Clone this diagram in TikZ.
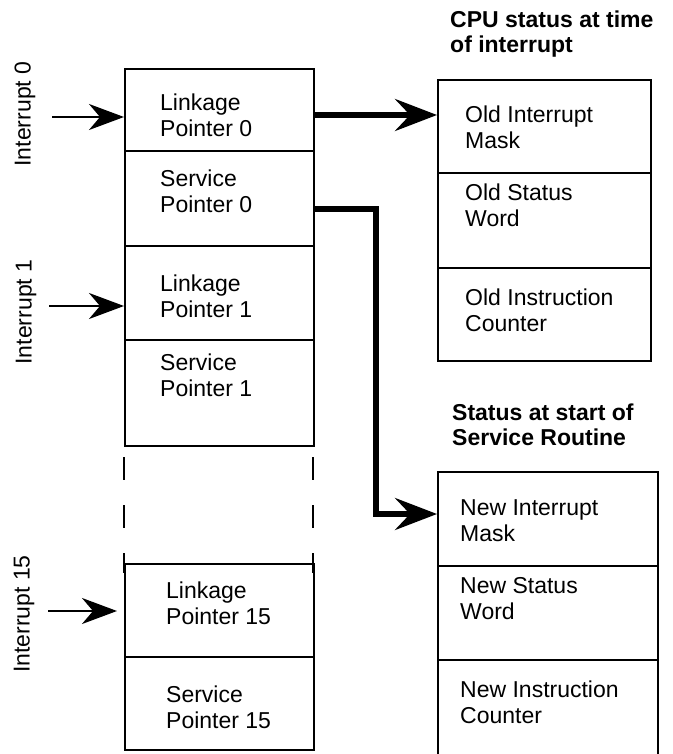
\documentclass[tikz,border=0pt]{standalone}
\usepackage{fontspec}
\setmainfont{Liberation Sans}
\usetikzlibrary{arrows.meta}
\tikzset{
  cell/.style={draw, line width=2pt, minimum width=#1, inner sep=0pt, anchor=north west},
  txt/.style={inner sep=0pt, anchor=west, align=left, font=\fontsize{23pt}{26pt}\selectfont},
  title/.style={inner sep=0pt, anchor=west, align=left, font=\fontsize{23pt}{25pt}\selectfont\bfseries},
  intlabel/.style={inner sep=0pt, rotate=90, font=\fontsize{23pt}{26pt}\selectfont},
  thinarrow/.style={line width=2.3pt, -{Stealth[length=35pt,width=26pt,inset=11pt]}},
  thickarrow/.style={line width=5.5pt, line join=miter, -{Stealth[length=42pt,width=32pt,inset=15pt]}},
  gapdash/.style={line width=2pt, dash pattern=on 23pt off 25pt}
}
\begin{document}
\begin{tikzpicture}[x=1pt,y=-1pt]
\useasboundingbox (0,0) rectangle (672,754);
\begin{scope}
\clip (0,0) rectangle (672,754);
% left column cells
\node[cell=189pt, minimum height=82pt] (lp0) at (124,68) {};
\node[cell=189pt, minimum height=95pt] (sp0) at (124,150) {};
\node[cell=189pt, minimum height=94pt] (lp1) at (124,245) {};
\node[cell=189pt, minimum height=106pt] (sp1) at (124,339) {};
\node[cell=189pt, minimum height=93pt] (lp15) at (124,563) {};
\node[cell=189pt, minimum height=93pt] (sp15) at (124,656) {};
% dashed continuation
\coordinate (dl) at (124,457);
\coordinate (dr) at (313,457);
\draw[gapdash] (dl) -- (dl |- lp15.north) -- ++(0,10);
\draw[gapdash] (dr) -- (dr |- lp15.north) -- ++(0,10);
% right top cells
\node[cell=213pt, minimum height=93pt] (oim) at (437,79) {};
\node[cell=213pt, minimum height=95pt] (osw) at (437,172) {};
\node[cell=213pt, minimum height=93pt] (oic) at (437,267) {};
% right bottom cells
\node[cell=220pt, minimum height=94pt] (nim) at (437,471) {};
\node[cell=220pt, minimum height=94pt] (nsw) at (437,565) {};
\node[cell=220pt, minimum height=120pt] (nic) at (437,659) {};
\end{scope}
% texts in left column
\node[txt] (tlp0) at (160,115) {Linkage\\Pointer 0};
\node[txt] (tsp0) at (160,191.5) {Service\\Pointer 0};
\node[txt] (tlp1) at (160,296.5) {Linkage\\Pointer 1};
\node[txt] (tsp1) at (160,375) {Service\\Pointer 1};
\node[txt] (tlp15) at (166,603.5) {Linkage\\Pointer 15};
\node[txt] (tsp15) at (166,707.5) {Service\\Pointer 15};
% texts right
\node[txt] (toim) at (465,127.5) {Old Interrupt\\Mask};
\node[txt] (tosw) at (465,205.5) {Old Status\\Word};
\node[txt] (toic) at (465,310) {Old Instruction\\Counter};
\node[txt] (tnim) at (460,520.5) {New Interrupt\\Mask};
\node[txt] (tnsw) at (460,598.5) {New Status\\Word};
\node[txt] (tnic) at (460,702.5) {New Instruction\\Counter};
% titles
\node[title] (t1) at (450,34) {CPU status at time\\of interrupt};
\node[title] (t2) at (452,425) {Status at start of\\Service Routine};
% interrupt labels
\node[intlabel] (i0) at (25,114) {Interrupt 0};
\node[intlabel] (i1) at (26,312) {Interrupt 1};
\node[intlabel] (i15) at (24,614) {Interrupt 15};
% interrupt arrows
\coordinate (a0) at (52,117);
\coordinate (a1) at (49,306);
\coordinate (a15) at (48,611);
\coordinate (e15) at (117,611);
\draw[thinarrow] (a0) -- (a0 -| lp0.west);
\draw[thinarrow] (a1) -- (a1 -| lp1.west);
\draw[thinarrow] (a15) -- (e15);
% thick connectors
\coordinate (c0) at (313,115);
\draw[thickarrow] (c0 -| lp0.east) -- (c0 -| oim.west);
\coordinate (c1) at (313,209);
\coordinate (c2) at (376,514);
\draw[thickarrow] (c1 -| sp0.east) -- (c1 -| c2) -- (c2) -- (c2 -| nim.west);
\end{tikzpicture}
\end{document}
